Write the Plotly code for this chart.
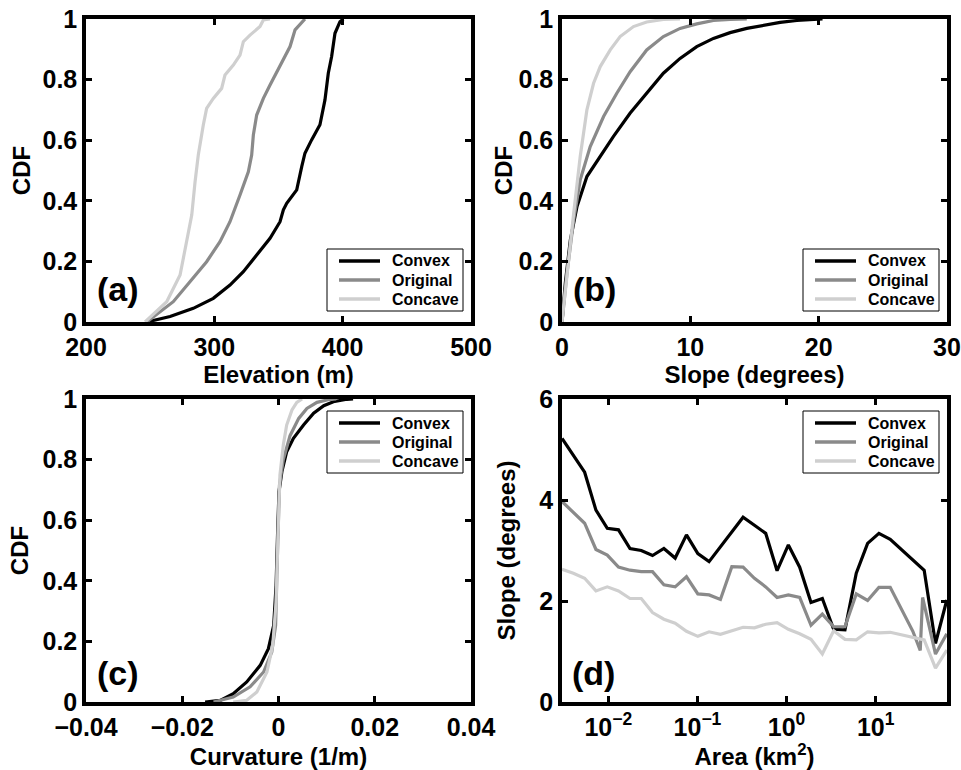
import plotly.graph_objects as go

# ---------------- data ----------------
series_names = ["Convex", "Original", "Concave"]

# (a) Elevation CDF
elev_convex_x = [247.3, 265.5, 283.6, 299.2, 312.2, 322.6, 333, 343.4, 351.2, 353.8, 356.4, 364.2, 368.1, 370.6, 375.8, 382.3, 386.2, 388.8, 391.4, 394, 397.9, 400.5]
elev_convex_y = [0, 0.018, 0.045, 0.078, 0.122, 0.166, 0.221, 0.276, 0.331, 0.370, 0.392, 0.436, 0.513, 0.557, 0.601, 0.651, 0.733, 0.821, 0.876, 0.953, 0.991, 1.0]
elev_orig_x = [247.3, 268, 281, 294, 304.4, 312.2, 320, 326.5, 329.1, 330.4, 333, 338.2, 343.4, 348.6, 353.8, 359, 362.9, 368.1, 370.6]
elev_orig_y = [0, 0.067, 0.133, 0.199, 0.265, 0.331, 0.419, 0.496, 0.551, 0.617, 0.683, 0.738, 0.782, 0.826, 0.870, 0.909, 0.964, 0.991, 1.0]
elev_conc_x = [246, 262.9, 273.3, 278.5, 282.4, 285, 287.5, 291.4, 294, 299.2, 305.7, 308.3, 314.8, 320, 322.6, 327.8, 335.6, 338.2, 343.4]
elev_conc_y = [0, 0.067, 0.155, 0.265, 0.353, 0.463, 0.551, 0.650, 0.705, 0.738, 0.771, 0.815, 0.848, 0.881, 0.925, 0.947, 0.975, 0.997, 1.0]

# (b) Slope CDF
slope_convex_x = [0, 0.26, 0.65, 1.17, 1.94, 2.98, 4.0, 5.3, 6.6, 7.9, 9.2, 10.5, 11.8, 13.1, 14.4, 15.7, 17.0, 18.3, 19.6, 20.3]
slope_convex_y = [0, 0.129, 0.271, 0.381, 0.480, 0.546, 0.612, 0.689, 0.755, 0.821, 0.870, 0.909, 0.936, 0.955, 0.969, 0.980, 0.989, 0.995, 0.999, 1.0]
slope_orig_x = [0, 0.39, 0.91, 1.42, 2.2, 3.24, 4.27, 5.31, 6.6, 7.9, 9.2, 10.5, 11.8, 13.1, 14.4]
slope_orig_y = [0, 0.162, 0.337, 0.469, 0.579, 0.678, 0.755, 0.826, 0.898, 0.942, 0.969, 0.984, 0.995, 0.999, 1.0]
slope_conc_x = [0, 0.39, 0.91, 1.42, 1.94, 2.46, 2.98, 3.76, 4.53, 5.57, 6.6, 7.9, 9.2]
slope_conc_y = [0, 0.162, 0.359, 0.546, 0.70, 0.788, 0.843, 0.898, 0.942, 0.975, 0.990, 0.999, 1.0]

# (c) Curvature CDF
curv_convex_x = [-0.01525, -0.0121, -0.0094, -0.0066, -0.0038, -0.0021, -0.001, -0.0005, -0.0002, 0.0001, 0.0007, 0.0017, 0.0031, 0.0052, 0.0073, 0.0094, 0.0114, 0.0142, 0.0155]
curv_convex_y = [0, 0.0055, 0.0275, 0.066, 0.121, 0.176, 0.253, 0.385, 0.55, 0.694, 0.76, 0.826, 0.870, 0.914, 0.953, 0.978, 0.991, 0.999, 1.0]
curv_orig_x = [-0.0135, -0.0094, -0.0059, -0.0031, -0.0014, -0.0006, -0.0002, 0.0002, 0.001, 0.0024, 0.0042, 0.0059, 0.008, 0.0107, 0.012]
curv_orig_y = [0, 0.0165, 0.05, 0.099, 0.165, 0.253, 0.50, 0.716, 0.80, 0.879, 0.936, 0.969, 0.989, 0.999, 1.0]
curv_conc_x = [-0.0094, -0.0066, -0.0045, -0.0024, -0.0012, -0.0005, -0.0001, 0.0003, 0.001, 0.0017, 0.0028, 0.0038, 0.0049]
curv_conc_y = [0, 0.0055, 0.033, 0.099, 0.187, 0.33, 0.55, 0.749, 0.848, 0.914, 0.964, 0.989, 1.0]

# (d) Slope vs drainage area
area = [0.00302, 0.00405, 0.00542, 0.00726, 0.00973, 0.0130, 0.0175, 0.0234, 0.0313, 0.0420,
        0.0562, 0.0753, 0.101, 0.135, 0.181, 0.243, 0.325, 0.436, 0.583, 0.782,
        1.047, 1.403, 1.879, 2.518, 3.373, 4.519, 6.053, 8.110, 10.86, 14.55,
        19.50, 26.12, 34.99, 46.88, 62.81]
sa_convex = [5.22, 4.88, 4.55, 3.80, 3.44, 3.41, 3.04, 3.00, 2.90, 3.04,
             2.85, 3.31, 2.94, 2.78, 3.07, 3.37, 3.66, 3.50, 3.34, 2.60,
             3.11, 2.67, 1.97, 2.05, 1.44, 1.43, 2.55, 3.14, 3.34, 3.22,
             3.02, 2.82, 2.61, 1.16, 2.02]
area_orig = [0.00302, 0.00405, 0.00542, 0.00726, 0.00973, 0.0130, 0.0175, 0.0234, 0.0313, 0.0420,
             0.0562, 0.0753, 0.101, 0.135, 0.181, 0.243, 0.325, 0.436, 0.583, 0.782,
             1.047, 1.403, 1.879, 2.518, 3.373, 4.519, 6.053, 8.110, 10.86, 14.55,
             19.50, 26.12, 31.6, 33.6, 46.88, 62.81]
sa_orig = [3.97, 3.75, 3.54, 3.02, 2.91, 2.67, 2.61, 2.58, 2.58, 2.32,
           2.28, 2.48, 2.14, 2.12, 2.03, 2.68, 2.67, 2.45, 2.28, 2.07,
           2.12, 2.07, 1.52, 1.74, 1.49, 1.49, 2.14, 2.01, 2.27, 2.27,
           1.85, 1.40, 1.02, 2.07, 0.95, 1.35]
sa_conc = [2.63, 2.55, 2.45, 2.20, 2.28, 2.20, 2.05, 2.05, 1.77, 1.64,
           1.56, 1.40, 1.30, 1.39, 1.34, 1.41, 1.48, 1.47, 1.54, 1.57,
           1.44, 1.35, 1.24, 0.95, 1.41, 1.24, 1.23, 1.39, 1.37, 1.38,
           1.33, 1.28, 1.23, 0.67, 1.03]

panel_labels = ["(a)", "(b)", "(c)", "(d)"]
area_tickvals = [0.01, 0.1, 1, 10]
area_ticktext = ["10<sup>−2</sup>", "10<sup>−1</sup>", "10<sup>0</sup>", "10<sup>1</sup>"]

# ---------------- styling ----------------
W, H = 961, 770
colors = ["#000000", "#8a8a8a", "#cfcfcf"]
FONT = "Liberation Sans, Arial, sans-serif"
LW = 3.2


def px_x(p):
    return p / W


def px_y(p):
    return 1 - p / H


fig = go.Figure()

panels = [
    ("x", "y", [(elev_convex_x, elev_convex_y), (elev_orig_x, elev_orig_y), (elev_conc_x, elev_conc_y)]),
    ("x2", "y2", [(slope_convex_x, slope_convex_y), (slope_orig_x, slope_orig_y), (slope_conc_x, slope_conc_y)]),
    ("x3", "y3", [(curv_convex_x, curv_convex_y), (curv_orig_x, curv_orig_y), (curv_conc_x, curv_conc_y)]),
    ("x4", "y4", [(area, sa_convex), (area_orig, sa_orig), (area, sa_conc)]),
]

for xa, ya, data in panels:
    for i, (xs, ys) in enumerate(data):
        fig.add_trace(go.Scatter(
            x=xs, y=ys, mode="lines", name=series_names[i],
            line=dict(color=colors[i], width=LW),
            xaxis=xa, yaxis=ya, showlegend=False,
        ))

tickfont = dict(family=FONT, size=25, color="black", weight="bold")
titlefont = dict(family=FONT, size=24, color="black", weight="bold")

common = dict(showline=True, linecolor="black", linewidth=3.5, mirror="ticks",
              ticks="inside", ticklen=6, tickwidth=3, tickcolor="black",
              showgrid=False, zeroline=False, tickfont=tickfont, automargin=False)

# domains (pixel based)
L1, R1, L2, R2 = 86, 471, 562, 947
T1, B1, T2, B2 = 19, 322, 399, 702

fig.update_layout(
    template="none",
    width=W, height=H,
    margin=dict(l=0, r=0, t=0, b=0, autoexpand=False),
    paper_bgcolor="white", plot_bgcolor="white",
    showlegend=False,
    xaxis=dict(domain=[px_x(L1), px_x(R1)], anchor="y", range=[200, 500], tickvals=[200, 300, 400, 500],
               title=dict(text="Elevation (m)", font=titlefont, standoff=6), **common),
    yaxis=dict(domain=[px_y(B1), px_y(T1)], anchor="x", range=[0, 1], dtick=0.2,
               title=dict(text="CDF", font=titlefont, standoff=6), **common),
    xaxis2=dict(domain=[px_x(L2), px_x(R2)], anchor="y2", range=[0, 30], tickvals=[0, 10, 20, 30],
                title=dict(text="Slope (degrees)", font=titlefont, standoff=1), **common),
    yaxis2=dict(domain=[px_y(B1), px_y(T1)], anchor="x2", range=[0, 1], dtick=0.2,
                title=dict(text="CDF", font=titlefont, standoff=0), **common),
    xaxis3=dict(domain=[px_x(L1), px_x(R1)], anchor="y3", range=[-0.04, 0.04], tickvals=[-0.04, -0.02, 0, 0.02, 0.04],
                title=dict(text="Curvature (1/m)", font=titlefont, standoff=11), **common),
    yaxis3=dict(domain=[px_y(B2), px_y(T2)], anchor="x3", range=[0, 1], dtick=0.2,
                title=dict(text="CDF", font=titlefont, standoff=8), **common),
    xaxis4=dict(domain=[px_x(L2), px_x(R2)], anchor="y4", type="log", range=[-2.52, 1.8],
                tickmode="array", tickvals=area_tickvals, ticktext=area_ticktext,
                title=dict(text="Area (km<sup>2</sup>)", font=titlefont, standoff=4), **common),
    yaxis4=dict(domain=[px_y(B2), px_y(T2)], anchor="x4", range=[0, 6], tickvals=[0, 2, 4, 6],
                title=dict(text="Slope (degrees)", font=titlefont, standoff=18), **common),
)

# legend boxes (one per panel): box left/top in pixels
legend_boxes = [(327, 249), (803, 249), (327, 411), (803, 411)]
BOX_W, BOX_H = 136, 62
for bx, by in legend_boxes:
    fig.add_shape(type="rect", xref="paper", yref="paper",
                  x0=px_x(bx), x1=px_x(bx + BOX_W), y0=px_y(by + BOX_H), y1=px_y(by),
                  line=dict(color="black", width=1), fillcolor="white", layer="above")
    for i, name in enumerate(series_names):
        ry = by + 12 + i * 19
        fig.add_shape(type="line", xref="paper", yref="paper",
                      x0=px_x(bx + 12), x1=px_x(bx + 53), y0=px_y(ry), y1=px_y(ry),
                      line=dict(color=colors[i], width=3.5), layer="above")
        fig.add_annotation(text=name, x=px_x(bx + 63), y=px_y(ry), xref="paper", yref="paper",
                           xanchor="left", yanchor="middle", showarrow=False,
                           font=dict(family=FONT, size=16, color="black", weight="bold"))

# panel labels
label_pos = [(95, 310), (571, 310), (95, 694), (570, 694)]
for txt, (lx, ly) in zip(panel_labels, label_pos):
    fig.add_annotation(text=txt, x=px_x(lx), y=px_y(ly), xref="paper", yref="paper",
                       xanchor="left", yanchor="bottom", showarrow=False,
                       font=dict(family=FONT, size=34, color="black", weight="bold"))

fig.write_html("out.html", config={"displayModeBar": False},
               post_script="document.body.style.margin='0';")
